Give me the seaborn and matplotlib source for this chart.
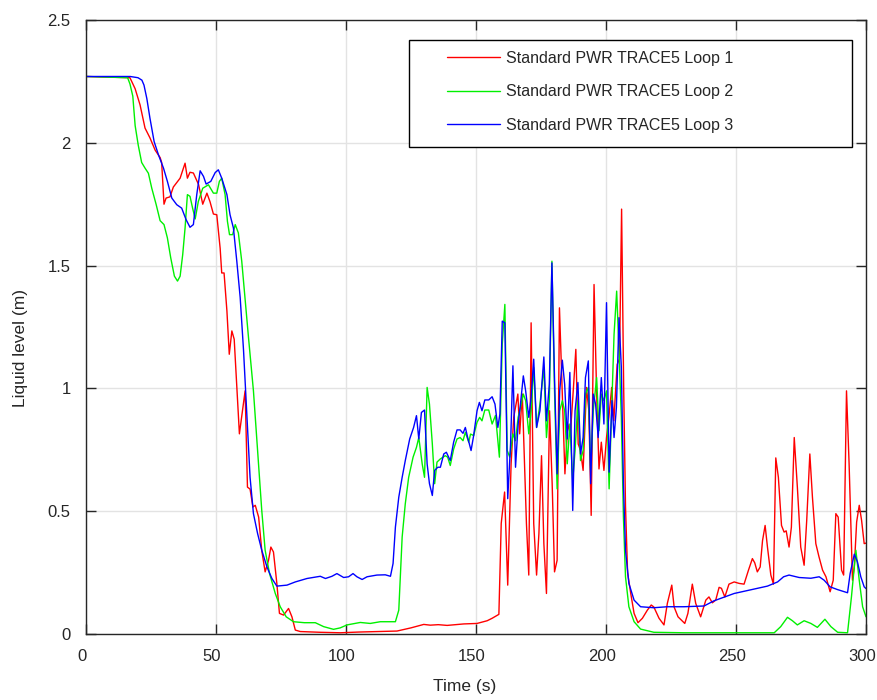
import numpy as np
import pandas as pd
import matplotlib
matplotlib.use("Agg")
import matplotlib.pyplot as plt
from matplotlib.patches import Rectangle
from matplotlib.transforms import ScaledTranslation
import seaborn as sns

# ---------------- data ----------------
loop1_t = [0, 16.9, 18.9, 20.8, 22.7, 24.6, 26.6, 28.5, 29.1, 30.0, 30.8, 32.3, 33.6, 36.2, 38.1, 39.0, 40.0,
           41.3, 43.3, 44.9, 46.5, 47.7, 49.0, 50.3, 51.6, 52.2, 53.1, 54.2, 55.1, 56.1, 57.0, 59.0, 61.2, 62.1,
           63.1, 64.2, 65.1, 66.4, 67.6, 68.9, 70.2, 71.1, 72.1, 73.4, 74.4, 76.0, 77.9, 79.2, 80.5, 82.4, 90,
           97.8, 105, 112, 119.6, 125, 129.9, 132.4, 135.5, 138.9, 142, 145.3, 150.4, 154.3, 156.2, 158.8, 159.7,
           161.0, 162.2, 163.5, 164.5, 166.1, 166.8, 167.8, 169.4, 170.3, 171.2, 172.2, 173.3, 174.2, 175.2,
           176.1, 177.1, 178.3, 179.3, 180.2, 181.2, 182.1, 183.2, 184.2, 185.3, 186.3, 187.4, 188.4, 189.3,
           190.2, 191.2, 192.5, 193.4, 194.3, 195.4, 196.4, 197.3, 198.2, 199.2, 200.2, 201.1, 202.2, 203.0,
           204.3, 205.2, 206.0, 206.8, 207.5, 208.3, 209.5, 210.8, 212.3, 214, 215.9, 217.4, 218.4, 220.4, 222.3,
           223.6, 225.3, 226.2, 227.7, 230.3, 231.5, 233.2, 234.5, 236.4, 238.4, 239.6, 240.9, 242.2, 243.5,
           244.4, 245.7, 247.3, 249.3, 251.2, 253.1, 254.8, 256.3, 257.2, 258.2, 259.3, 260.2, 261.2, 262.1,
           263.4, 264.4, 265.3, 266.3, 267.5, 268.5, 269.3, 270.4, 271.3, 272.4, 273.6, 274.9, 276.2, 277.2,
           278.4, 279.4, 280.7, 281.9, 283.3, 284.6, 286.2, 287.4, 288.4, 289.3, 290.6, 291.4, 292.5, 293.5,
           294.8, 295.5, 296.4, 297.4, 298.3, 299.3, 300]
loop1_y = [2.27, 2.265, 2.22, 2.154, 2.06, 2.02, 1.97, 1.94, 1.92, 1.75, 1.775, 1.78, 1.82, 1.856, 1.917, 1.856,
           1.88, 1.877, 1.83, 1.75, 1.795, 1.76, 1.71, 1.707, 1.57, 1.47, 1.47, 1.315, 1.139, 1.234, 1.20, 0.815,
           0.99, 0.598, 0.59, 0.517, 0.524, 0.476, 0.34, 0.253, 0.30, 0.354, 0.334, 0.206, 0.084, 0.077, 0.104,
           0.07, 0.016, 0.01, 0.007, 0.005, 0.008, 0.01, 0.012, 0.025, 0.039, 0.036, 0.038, 0.035, 0.038, 0.041,
           0.043, 0.054, 0.064, 0.08, 0.45, 0.578, 0.199, 0.693, 0.882, 0.977, 0.815, 0.977, 0.45, 0.24, 1.267,
           0.45, 0.24, 0.41, 0.726, 0.368, 0.165, 0.909, 0.61, 0.253, 0.30, 1.328, 0.977, 0.652, 0.855, 0.815,
           0.99, 1.159, 0.774, 0.747, 0.666, 1.004, 0.909, 0.483, 1.423, 0.977, 0.672, 0.781, 0.666, 0.80, 0.882,
           1.004, 0.868, 1.098, 1.12, 1.73, 1.0, 0.52, 0.25, 0.166, 0.084, 0.046, 0.064, 0.097, 0.118, 0.11,
           0.064, 0.037, 0.125, 0.199, 0.11, 0.07, 0.043, 0.084, 0.203, 0.125, 0.07, 0.138, 0.151, 0.127, 0.138,
           0.19, 0.186, 0.151, 0.203, 0.212, 0.206, 0.203, 0.26, 0.307, 0.29, 0.253, 0.273, 0.38, 0.442, 0.354,
           0.24, 0.203, 0.717, 0.638, 0.442, 0.415, 0.42, 0.354, 0.435, 0.80, 0.598, 0.354, 0.28, 0.463, 0.733,
           0.557, 0.368, 0.315, 0.26, 0.233, 0.172, 0.219, 0.49, 0.476, 0.26, 0.24, 0.99, 0.693, 0.219, 0.273,
           0.456, 0.524, 0.463, 0.368, 0.37]

loop2_t = [0, 16.0, 16.9, 18.0, 18.9, 20.1, 21.4, 22.7, 24.0, 25.3, 27.0, 28.5, 30.0, 31.3, 32.6, 34.0, 35.2,
           36.2, 37.2, 38.1, 39.0, 40.0, 41.0, 42.0, 43.2, 44.9, 47.1, 49.0, 50.3, 51.3, 52.2, 53.5, 54.4, 55.2,
           56.4, 57.4, 58.6, 59.9, 60.8, 62.5, 64.4, 66.0, 67.6, 68.9, 70.6, 72.8, 74.7, 77.0, 79.8, 84, 88.2,
           91.4, 95.2, 97.8, 100.4, 105.5, 109.3, 113.2, 119.0, 120.3, 121.6, 122.8, 124.1, 125.8, 127.1, 128.0,
           129.3, 130.2, 131.2, 132.1, 133.2, 134.1, 135.0, 136.3, 138.2, 139.1, 140.1, 141.4, 142.7, 143.9,
           145.0, 145.9, 147.2, 147.9, 149.1, 150.4, 151.4, 152.3, 153.4, 154.9, 156.2, 157.5, 159.0, 160.1,
           161.1, 162.0, 163.0, 164.2, 165.2, 166.2, 167.1, 168.2, 169.1, 170.3, 171.2, 172.2, 173.3, 174.6,
           176.1, 177.1, 178.2, 179.2, 180.2, 181.2, 182.2, 183.2, 184.1, 185.1, 186.1, 187.2, 188.1, 189.2,
           190.2, 191.2, 192.1, 193.2, 194.1, 195.1, 196.4, 197.3, 198.2, 199.2, 200.2, 201.2, 202.3, 203.1,
           204.1, 205.0, 205.9, 206.7, 207.5, 208.8, 210.8, 213.3, 218.4, 230, 264.7, 267.2, 269.8, 271.7,
           273.6, 276.2, 278.8, 281.3, 284.2, 286.5, 289.1, 292.9, 294.4, 296.1, 297.4, 298.7, 300]
loop2_y = [2.27, 2.265, 2.24, 2.19, 2.07, 1.99, 1.92, 1.897, 1.876, 1.815, 1.748, 1.683, 1.667, 1.613, 1.531,
           1.457, 1.437, 1.457, 1.545, 1.653, 1.789, 1.782, 1.734, 1.69, 1.761, 1.815, 1.829, 1.795, 1.795,
           1.843, 1.856, 1.789, 1.68, 1.626, 1.626, 1.667, 1.633, 1.518, 1.41, 1.207, 0.99, 0.747, 0.503, 0.341,
           0.246, 0.165, 0.111, 0.07, 0.05, 0.046, 0.046, 0.03, 0.019, 0.025, 0.037, 0.047, 0.043, 0.05, 0.05,
           0.097, 0.395, 0.53, 0.638, 0.72, 0.76, 0.80, 0.693, 0.638, 1.004, 0.936, 0.774, 0.612, 0.70, 0.713,
           0.726, 0.72, 0.686, 0.753, 0.794, 0.80, 0.787, 0.821, 0.781, 0.814, 0.808, 0.862, 0.882, 0.868, 0.912,
           0.912, 0.855, 0.89, 0.72, 1.18, 1.342, 0.747, 0.72, 0.815, 0.787, 0.882, 0.922, 0.977, 0.95, 0.815,
           0.909, 1.085, 0.841, 0.936, 1.085, 0.80, 0.95, 1.518, 0.99, 0.591, 0.909, 0.95, 0.909, 0.693, 0.855,
           0.625, 0.747, 0.95, 0.706, 0.747, 0.977, 1.004, 0.666, 0.909, 1.044, 0.828, 0.977, 0.95, 0.99, 0.591,
           0.963, 1.22, 1.396, 1.153, 0.882, 0.476, 0.233, 0.111, 0.05, 0.02, 0.007, 0.005, 0.005, 0.03, 0.068,
           0.054, 0.037, 0.054, 0.043, 0.027, 0.06, 0.03, 0.007, 0.005, 0.151, 0.341, 0.219, 0.111, 0.07]

loop3_t = [0, 17, 20, 21.5, 22.3, 23.4, 24.6, 26.2, 27.9, 29.8, 31.3, 33.0, 34.9, 36.8, 38.5, 40.0, 41.3, 42.6,
           43.9, 45.2, 46.2, 48.0, 49.7, 50.9, 52.2, 54.2, 55.4, 56.7, 58.0, 59.3, 60.6, 61.9, 63.1, 64.4, 66.0,
           67.6, 69.6, 71.5, 73.4, 77.3, 80.5, 85.0, 90.1, 92.1, 94.6, 96.5, 99.1, 101.0, 102.7, 104.2, 106.2,
           108.1, 111.9, 115.1, 117.1, 118.1, 119.0, 120.3, 121.6, 122.8, 124.5, 126.0, 127.1, 128.0, 129.0,
           130.2, 131.2, 132.1, 133.2, 134.1, 135.3, 136.3, 137.6, 138.6, 139.5, 140.1, 141.4, 142.7, 143.9,
           145.0, 145.9, 146.8, 148.1, 149.1, 150.4, 151.3, 152.3, 153.4, 154.9, 156.2, 157.3, 158.4, 159.2,
           160.1, 161.1, 162.2, 163.3, 164.2, 165.2, 166.2, 167.1, 168.2, 169.1, 170.3, 171.2, 172.2, 173.3,
           174.6, 176.1, 177.1, 178.2, 179.2, 180.2, 181.2, 182.2, 183.2, 184.1, 185.1, 186.1, 187.2, 188.1,
           189.2, 190.2, 191.2, 192.1, 193.2, 194.1, 195.1, 196.0, 197.0, 198.2, 199.2, 200.2, 201.2, 202.3,
           203.1, 204.0, 205.0, 205.9, 206.7, 207.5, 208.8, 210.8, 213.3, 218.4, 223.6, 230.0, 237.7, 241.5,
           249.3, 257.0, 262.1, 266.0, 268.3, 270.4, 274.3, 278.8, 282.0, 283.9, 286.2, 289.0, 292.9, 293.9,
           295.5, 296.7, 298.0, 299.3, 300]
loop3_y = [2.27, 2.27, 2.265, 2.255, 2.235, 2.18, 2.1, 2.005, 1.95, 1.897, 1.843, 1.775, 1.748, 1.734, 1.687,
           1.656, 1.667, 1.789, 1.886, 1.863, 1.832, 1.843, 1.879, 1.89, 1.856, 1.789, 1.707, 1.653, 1.518, 1.37,
           1.153, 0.882, 0.638, 0.49, 0.409, 0.341, 0.273, 0.226, 0.195, 0.199, 0.212, 0.226, 0.235, 0.226,
           0.235, 0.246, 0.230, 0.233, 0.246, 0.233, 0.222, 0.233, 0.24, 0.241, 0.235, 0.287, 0.435, 0.557,
           0.638, 0.706, 0.794, 0.841, 0.889, 0.794, 0.902, 0.912, 0.693, 0.612, 0.564, 0.666, 0.679, 0.679,
           0.733, 0.74, 0.72, 0.706, 0.781, 0.831, 0.831, 0.817, 0.841, 0.80, 0.747, 0.808, 0.909, 0.943, 0.909,
           0.953, 0.953, 0.966, 0.936, 0.841, 0.896, 1.274, 1.267, 0.551, 0.774, 1.092, 0.679, 0.855, 0.936,
           1.051, 0.99, 0.882, 0.963, 1.119, 0.841, 0.909, 1.128, 0.868, 1.017, 1.511, 1.044, 0.652, 0.99, 1.115,
           1.017, 0.794, 1.065, 0.503, 0.909, 1.024, 0.733, 0.80, 1.044, 1.112, 0.612, 0.977, 0.936, 0.80, 1.044,
           0.855, 1.349, 0.659, 0.95, 0.80, 0.922, 1.288, 1.085, 0.612, 0.341, 0.206, 0.138, 0.111, 0.107, 0.111,
           0.111, 0.114, 0.135, 0.165, 0.183, 0.195, 0.212, 0.233, 0.24, 0.23, 0.227, 0.233, 0.219, 0.192, 0.181,
           0.168, 0.246, 0.325, 0.294, 0.233, 0.192, 0.185]

labels = ["Standard PWR TRACE5 Loop 1", "Standard PWR TRACE5 Loop 2", "Standard PWR TRACE5 Loop 3"]
colors = ["#ff0000", "#00f000", "#0000ff"]
x_ticks = [0, 50, 100, 150, 200, 250, 300]
y_ticks = [0, 0.5, 1, 1.5, 2, 2.5]
y_tick_labels = ["0", "0.5", "1", "1.5", "2", "2.5"]
x_label = "Time (s)"
y_label = "Liquid level (m)"

# ---------------- build long table ----------------
frames = []
for t, y, lab in zip([loop1_t, loop2_t, loop3_t], [loop1_y, loop2_y, loop3_y], labels):
    frames.append(pd.DataFrame({"t": t, "y": y, "series": lab}))
df = pd.concat(frames, ignore_index=True)

sns.set_theme(style="white")
plt.rcParams["font.family"] = ["Liberation Sans", "DejaVu Sans"]
plt.rcParams["text.color"] = "#262626"

fig = plt.figure(figsize=(8.78, 7.00), dpi=100)
ax = fig.add_axes([86 / 878, 66 / 700, 780 / 878, 614 / 700])

sns.lineplot(data=df, x="t", y="y", hue="series", hue_order=labels,
             palette=dict(zip(labels, colors)), estimator=None, sort=False,
             linewidth=1.0, ax=ax, legend=True)

ax.set_xlim(0, 300)
ax.set_ylim(0, 2.5)
ax.set_xticks(x_ticks)
ax.set_xticklabels([str(v) for v in x_ticks])
ax.set_yticks(y_ticks)
ax.set_yticklabels(y_tick_labels)
ax.grid(True, color="#e3e3e3", linewidth=1.0)
ax.set_axisbelow(True)
for s in ax.spines.values():
    s.set_visible(True)
    s.set_color("#262626")
    s.set_linewidth(1.0)
ax.tick_params(axis="both", direction="in", length=7, width=1.0, color="#262626",
               labelsize=12, labelcolor="#262626", pad=11,
               top=True, right=True, bottom=True, left=True)
shift = ScaledTranslation(-4 / 100, 0, fig.dpi_scale_trans)
for lbl in ax.get_xticklabels():
    lbl.set_transform(lbl.get_transform() + shift)

ax.set_xlabel(x_label, fontsize=12.5, color="#262626", va="top")
ax.xaxis.set_label_coords((465 - 86) / 780, (634 - 679) / 614)
ax.set_ylabel(y_label, fontsize=12.5, color="#262626")
ax.yaxis.set_label_coords((28 - 86) / 780, (634 - 348) / 614)

# legend: frame drawn as rectangle, entries as real legend
x0 = (409 - 86) / 780
y0 = (634 - 147) / 614
w = (852 - 409) / 780
h = (147 - 40) / 614
ax.add_patch(Rectangle((x0, y0), w, h, transform=ax.transAxes, facecolor="white",
                       edgecolor="black", linewidth=1.0, zorder=5))
handles, _ = ax.get_legend_handles_labels()
leg = ax.legend(handles=handles, labels=labels, loc="upper left",
                bbox_to_anchor=((447 - 86) / 780, (634 - 51) / 614),
                frameon=False, borderpad=0, borderaxespad=0, fontsize=11.5,
                handlelength=3.3, handletextpad=0.4, labelspacing=1.15)
leg.set_zorder(6)
for line in leg.get_lines():
    line.set_linewidth(1.0)

fig.savefig("out.png", dpi=100)
